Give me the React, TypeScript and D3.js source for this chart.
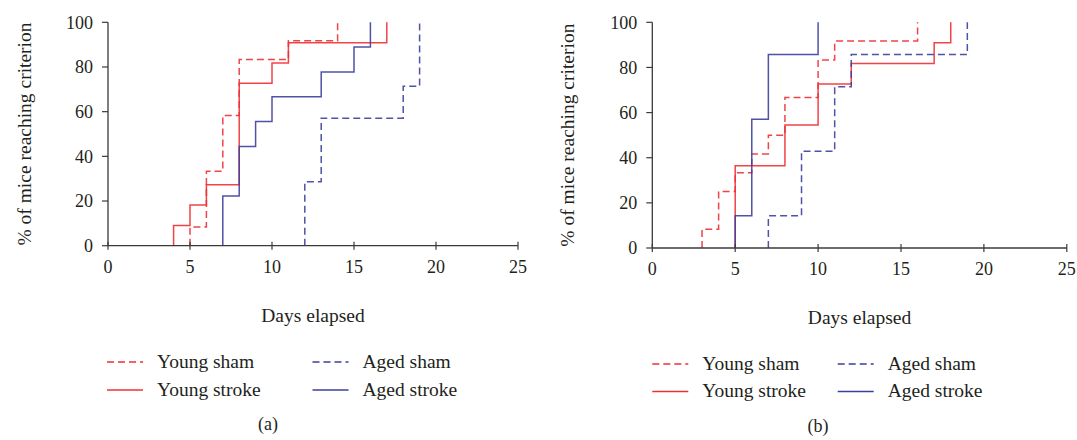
import React from "react";
import * as d3 from "d3";

// ---------- data ----------
const xTicks = [0, 5, 10, 15, 20, 25];
const yTicks = [0, 20, 40, 60, 80, 100];

// Panel (a)
const aYoungShamDays = [5, 6, 7, 8, 11, 14];
const aYoungShamVals = [8.33, 33.3, 58.3, 83.3, 91.7, 100];
const aYoungStrokeDays = [4, 5, 6, 8, 10, 11, 17];
const aYoungStrokeVals = [9.09, 18.2, 27.3, 72.7, 81.8, 90.9, 100];
const aAgedShamDays = [12, 13, 18, 19];
const aAgedShamVals = [28.6, 57.1, 71.4, 100];
const aAgedStrokeDays = [7, 8, 9, 10, 13, 15, 16];
const aAgedStrokeVals = [22.2, 44.4, 55.6, 66.7, 77.8, 88.9, 100];

// Panel (b)
const bYoungShamDays = [3, 4, 5, 6, 7, 8, 10, 11, 16];
const bYoungShamVals = [8.33, 25, 33.3, 41.7, 50, 66.7, 83.3, 91.7, 100];
const bYoungStrokeDays = [5, 8, 10, 12, 17, 18];
const bYoungStrokeVals = [36.4, 54.5, 72.7, 81.8, 90.9, 100];
const bAgedShamDays = [7, 9, 11, 12, 19];
const bAgedShamVals = [14.3, 42.9, 71.4, 85.7, 100];
const bAgedStrokeDays = [5, 6, 7, 10];
const bAgedStrokeVals = [14.3, 57.1, 85.7, 100];

const seriesNames = ["Young sham", "Young stroke", "Aged sham", "Aged stroke"];

const RED = "#ee3034";
const BLUE = "#3c3f9c";
const DASH = "7,4";
const FONT = "'Liberation Serif', 'Times New Roman', serif";

type Series = { name: string; days: number[]; vals: number[]; color: string; dashed: boolean };

function buildSeries(
  ys: [number[], number[]],
  yst: [number[], number[]],
  as: [number[], number[]],
  ast: [number[], number[]]
): Series[] {
  return [
    { name: seriesNames[0], days: ys[0], vals: ys[1], color: RED, dashed: true },
    { name: seriesNames[1], days: yst[0], vals: yst[1], color: RED, dashed: false },
    { name: seriesNames[2], days: as[0], vals: as[1], color: BLUE, dashed: true },
    { name: seriesNames[3], days: ast[0], vals: ast[1], color: BLUE, dashed: false },
  ];
}

const panelA = buildSeries(
  [aYoungShamDays, aYoungShamVals],
  [aYoungStrokeDays, aYoungStrokeVals],
  [aAgedShamDays, aAgedShamVals],
  [aAgedStrokeDays, aAgedStrokeVals]
);
const panelB = buildSeries(
  [bYoungShamDays, bYoungShamVals],
  [bYoungStrokeDays, bYoungStrokeVals],
  [bAgedShamDays, bAgedShamVals],
  [bAgedStrokeDays, bAgedStrokeVals]
);

type PanelLayout = {
  x0: number;
  x1: number;
  y0: number;
  y1: number;
  ylabelX: number;
  xlabelY: number;
  legendRow1: number;
  legendRow2: number;
  legLine0: number;
  legCol2: number;
  captionX: number;
  captionY: number;
  caption: string;
};

function Panel({ series, L }: { series: Series[]; L: PanelLayout }) {
  const x = d3.scaleLinear().domain([0, 25]).range([L.x0, L.x1]);
  const y = d3.scaleLinear().domain([0, 100]).range([L.y0, L.y1]);
  const line = d3
    .line<[number, number]>()
    .x((d) => x(d[0]))
    .y((d) => y(d[1]))
    .curve(d3.curveStepAfter);
  const axisColor = "#3a3a3a";
  const legendItems = [
    { s: series[0], col: 0, row: 0 },
    { s: series[1], col: 0, row: 1 },
    { s: series[2], col: 1, row: 0 },
    { s: series[3], col: 1, row: 1 },
  ];
  const midX = (L.x0 + L.x1) / 2;
  return (
    <g>
      {/* series */}
      {series.map((s) => {
        const pts: [number, number][] = [[s.days[0], 0]];
        s.days.forEach((d, i) => pts.push([d, s.vals[i]]));
        return (
          <path
            key={s.name}
            d={line(pts) || ""}
            fill="none"
            stroke={s.color}
            strokeWidth={1.5}
            strokeDasharray={s.dashed ? DASH : undefined}
            strokeOpacity={0.9}
          />
        );
      })}
      {/* y axis */}
      <line x1={L.x0} x2={L.x0} y1={y(0)} y2={y(100)} stroke={axisColor} strokeWidth={1.3} />
      {yTicks.map((t) => (
        <g key={"y" + t}>
          <line x1={L.x0 - 6} x2={L.x0} y1={y(t)} y2={y(t)} stroke={axisColor} strokeWidth={1.2} />
          <text
            x={L.x0 - 15}
            y={y(t)}
            dy="0.35em"
            textAnchor="end"
            fontFamily={FONT}
            fontSize={18}
            fill="#231f20"
          >
            {t}
          </text>
        </g>
      ))}
      {/* x axis */}
      <line x1={x(0)} x2={x(25)} y1={L.y0} y2={L.y0} stroke={axisColor} strokeWidth={1.3} />
      {xTicks.map((t) => (
        <g key={"x" + t}>
          <line x1={x(t)} x2={x(t)} y1={L.y0 - 4} y2={L.y0 + 4} stroke={axisColor} strokeWidth={1.2} />
          <text
            x={x(t)}
            y={L.y0 + 27}
            textAnchor="middle"
            fontFamily={FONT}
            fontSize={18}
            fill="#231f20"
          >
            {t}
          </text>
        </g>
      ))}
      {/* axis labels */}
      <text
        transform={`translate(${L.ylabelX},${(y(0) + y(100)) / 2}) rotate(-90)`}
        textAnchor="middle"
        dy="0.35em"
        fontFamily={FONT}
        fontSize={19.5}
        fill="#231f20"
      >
        % of mice reaching criterion
      </text>
      <text
        x={midX}
        y={L.xlabelY}
        textAnchor="middle"
        dy="0.35em"
        fontFamily={FONT}
        fontSize={19.5}
        fill="#231f20"
      >
        Days elapsed
      </text>
      {/* legend */}
      {legendItems.map(({ s, col, row }) => {
        const lx = col === 0 ? L.legLine0 : L.legCol2;
        const ly = row === 0 ? L.legendRow1 : L.legendRow2;
        return (
          <g key={"leg" + s.name}>
            <line
              x1={lx}
              x2={lx + 36}
              y1={ly}
              y2={ly}
              stroke={s.color}
              strokeWidth={1.5}
              strokeDasharray={s.dashed ? DASH : undefined}
            />
            <text
              x={lx + 50}
              y={ly}
              dy="0.3em"
              fontFamily={FONT}
              fontSize={19.5}
              fill="#231f20"
            >
              {s.name}
            </text>
          </g>
        );
      })}
      <text
        x={L.captionX}
        y={L.captionY}
        textAnchor="middle"
        dy="0.35em"
        fontFamily={FONT}
        fontSize={18}
        fill="#231f20"
      >
        {L.caption}
      </text>
    </g>
  );
}

const layoutA: PanelLayout = {
  x0: 108,
  x1: 518,
  y0: 245.7,
  y1: 22.3,
  ylabelX: 24,
  xlabelY: 315,
  legendRow1: 362,
  legendRow2: 390,
  legLine0: 107,
  legCol2: 312.5,
  captionX: 268,
  captionY: 424,
  caption: "(a)",
};

const layoutB: PanelLayout = {
  x0: 652.3,
  x1: 1066.8,
  y0: 248,
  y1: 22.3,
  ylabelX: 567.5,
  xlabelY: 317.5,
  legendRow1: 364,
  legendRow2: 391.5,
  legLine0: 652.3,
  legCol2: 837.7,
  captionX: 818,
  captionY: 426,
  caption: "(b)",
};

export default function App() {
  return (
    <svg
      width={1077}
      height={440}
      style={{ position: "absolute", left: 0, top: 0, background: "#fff" }}
    >
      <rect width={1077} height={440} fill="#fff" />
      <Panel series={panelA} L={layoutA} />
      <Panel series={panelB} L={layoutB} />
    </svg>
  );
}
